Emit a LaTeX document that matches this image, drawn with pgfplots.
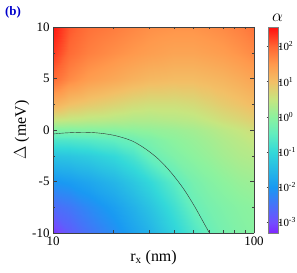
\documentclass[border=0pt]{standalone}
\usepackage{pgfplots}
\pgfplotsset{compat=1.18}
\usepackage{pgfplotstable}
\usepackage{fontspec}
\setmainfont{Liberation Serif}
\pgfplotstableread{
x y c
10 -10 -3.2
12 -10 -2.8
15 -10 -2.5
20 -10 -2.15
25 -10 -1.85
30 -10 -1.6
40 -10 -1.1
50 -10 -0.7
60 -10 -0.4
70 -10 -0.25
85 -10 -0.12
100 -10 -0.05
10 -7.5 -2.6
12 -7.5 -2.45
15 -7.5 -2.2
20 -7.5 -1.9
25 -7.5 -1.62
30 -7.5 -1.35
40 -7.5 -0.85
50 -7.5 -0.42
60 -7.5 -0.25
70 -7.5 -0.15
85 -7.5 -0.05
100 -7.5 0.0
10 -5 -2.05
12 -5 -1.95
15 -5 -1.8
20 -5 -1.55
25 -5 -1.28
30 -5 -1.02
40 -5 -0.55
50 -5 -0.25
60 -5 -0.1
70 -5 0.0
85 -5 0.1
100 -5 0.15
10 -2.5 -1.35
12 -2.5 -1.3
15 -2.5 -1.2
20 -2.5 -1.0
25 -2.5 -0.75
30 -2.5 -0.42
40 -2.5 -0.15
50 -2.5 0.0
60 -2.5 0.1
70 -2.5 0.2
85 -2.5 0.3
100 -2.5 0.35
10 -1 -0.7
12 -1 -0.68
15 -1 -0.62
20 -1 -0.5
25 -1 -0.35
30 -1 -0.2
40 -1 0.0
50 -1 0.1
60 -1 0.2
70 -1 0.3
85 -1 0.4
100 -1 0.5
10 0 -0.12
12 0 -0.1
15 0 -0.07
20 0 -0.05
25 0 0.0
30 0 0.05
40 0 0.12
50 0 0.2
60 0 0.3
70 0 0.4
85 0 0.5
100 0 0.6
10 1 0.5
12 1 0.45
15 1 0.4
20 1 0.35
25 1 0.3
30 1 0.3
40 1 0.35
50 1 0.4
60 1 0.5
70 1 0.6
85 1 0.7
100 1 0.8
10 2.5 1.2
12 2.5 1.0
15 2.5 0.88
20 2.5 0.75
25 2.5 0.65
30 2.5 0.6
40 2.5 0.6
50 2.5 0.65
60 2.5 0.75
70 2.5 0.85
85 2.5 0.95
100 2.5 1.05
10 5 1.95
12 5 1.65
15 5 1.45
20 5 1.3
25 5 1.18
30 5 1.1
40 5 1.05
50 5 1.05
60 5 1.1
70 5 1.15
85 5 1.25
100 5 1.35
10 7.5 2.3
12 7.5 1.95
15 7.5 1.75
20 7.5 1.6
25 7.5 1.5
30 7.5 1.43
40 7.5 1.35
50 7.5 1.35
60 7.5 1.4
70 7.5 1.45
85 7.5 1.55
100 7.5 1.65
10 10 2.5
12 10 2.1
15 10 1.9
20 10 1.78
25 10 1.68
30 10 1.6
40 10 1.55
50 10 1.55
60 10 1.6
70 10 1.65
85 10 1.75
100 10 1.88
}\alphafield
\pgfplotstableread{
x y z
10 -0.39 3
11.2 -0.3 3
12.6 -0.25 3
14.1 -0.22 3
15.8 -0.25 3
17.7 -0.34 3
19.9 -0.5 3
22.3 -0.75 3
25.0 -1.1 3
28.1 -1.68 3
31.1 -2.3 3
34.0 -2.95 3
37.6 -3.85 3
41.4 -4.85 3
45.5 -5.95 3
51.1 -7.55 3
55.1 -8.7 3
60.0 -10.0 3
}\alphaline
\begin{document}
\begin{tikzpicture}
\useasboundingbox (-53bp,-40bp) rectangle (244bp,233bp);
\begin{axis}[
  at={(0,0)}, anchor=south west,
  scale only axis, width=201bp, height=206bp,
  xmode=log, xmin=10, xmax=100, ymin=-10, ymax=10,
  view={0}{90},
  xtick={10,100}, xticklabels={10,100},
  minor xtick={20,30,40,50,60,70,80,90},
  ytick={-10,-5,0,5,10},
  yticklabels={-10,-5,0,5,10},
  minor ytick={-7.5,-2.5,2.5,7.5},
  tick align=inside,
  major tick length=4bp, minor tick length=2.5bp,
  tick style={black!75},
  axis line style={black!75},
  ticklabel style={font=\fontsize{13}{15}\selectfont},
  xlabel={r\textsubscript{x} (nm)},
  ylabel={$\Delta$ (meV)},
  xlabel style={font=\fontsize{16}{18}\selectfont, yshift=2bp},
  ylabel style={font=\fontsize{16}{18}\selectfont, yshift=-4bp},
  point meta min=-3.3, point meta max=2.55,
  colormap={alpha}{
    rgb(0)=(0.5,0.15,1.0)
    rgb(30)=(0.45,0.3,1.0)
    rgb(130)=(0.1,0.6,0.95)
    rgb(230)=(0.2,0.85,0.85)
    rgb(280)=(0.38,0.93,0.75)
    rgb(330)=(0.55,0.95,0.62)
    rgb(380)=(0.78,0.9,0.5)
    rgb(430)=(0.95,0.75,0.4)
    rgb(480)=(1.0,0.6,0.3)
    rgb(530)=(1.0,0.4,0.2)
    rgb(585)=(1.0,0.05,0.05)
  },
  colorbar,
  colorbar style={
    at={(parent axis.north east)}, anchor=north west, xshift=6bp,
    width=10bp,
    ytick={-3,-2,-1,0,1,2},
    yticklabels={10\textsuperscript{-3},10\textsuperscript{-2},10\textsuperscript{-1},10\textsuperscript{0},10\textsuperscript{1},10\textsuperscript{2}},
    yticklabel style={font=\fontsize{11}{13}\selectfont, xshift=-6bp},
    tick align=outside, major tick length=2bp,
    axis line style={black!50},
    title={$\alpha$}, title style={font=\fontsize{16}{18}\selectfont, yshift=-4bp, xshift=4bp},
  },
]
\addplot3[surf, shader=interp, mesh/cols=12] table[x=x, y=y, z=c] {\alphafield};
\addplot3[black!80, thin, smooth] table[x=x, y=y, z=z] {\alphaline};
\end{axis}
\node[font=\bfseries\fontsize{13}{15}\selectfont, text=blue!80!black] at (-40bp,221bp) {(b)};
\end{tikzpicture}
\end{document}
